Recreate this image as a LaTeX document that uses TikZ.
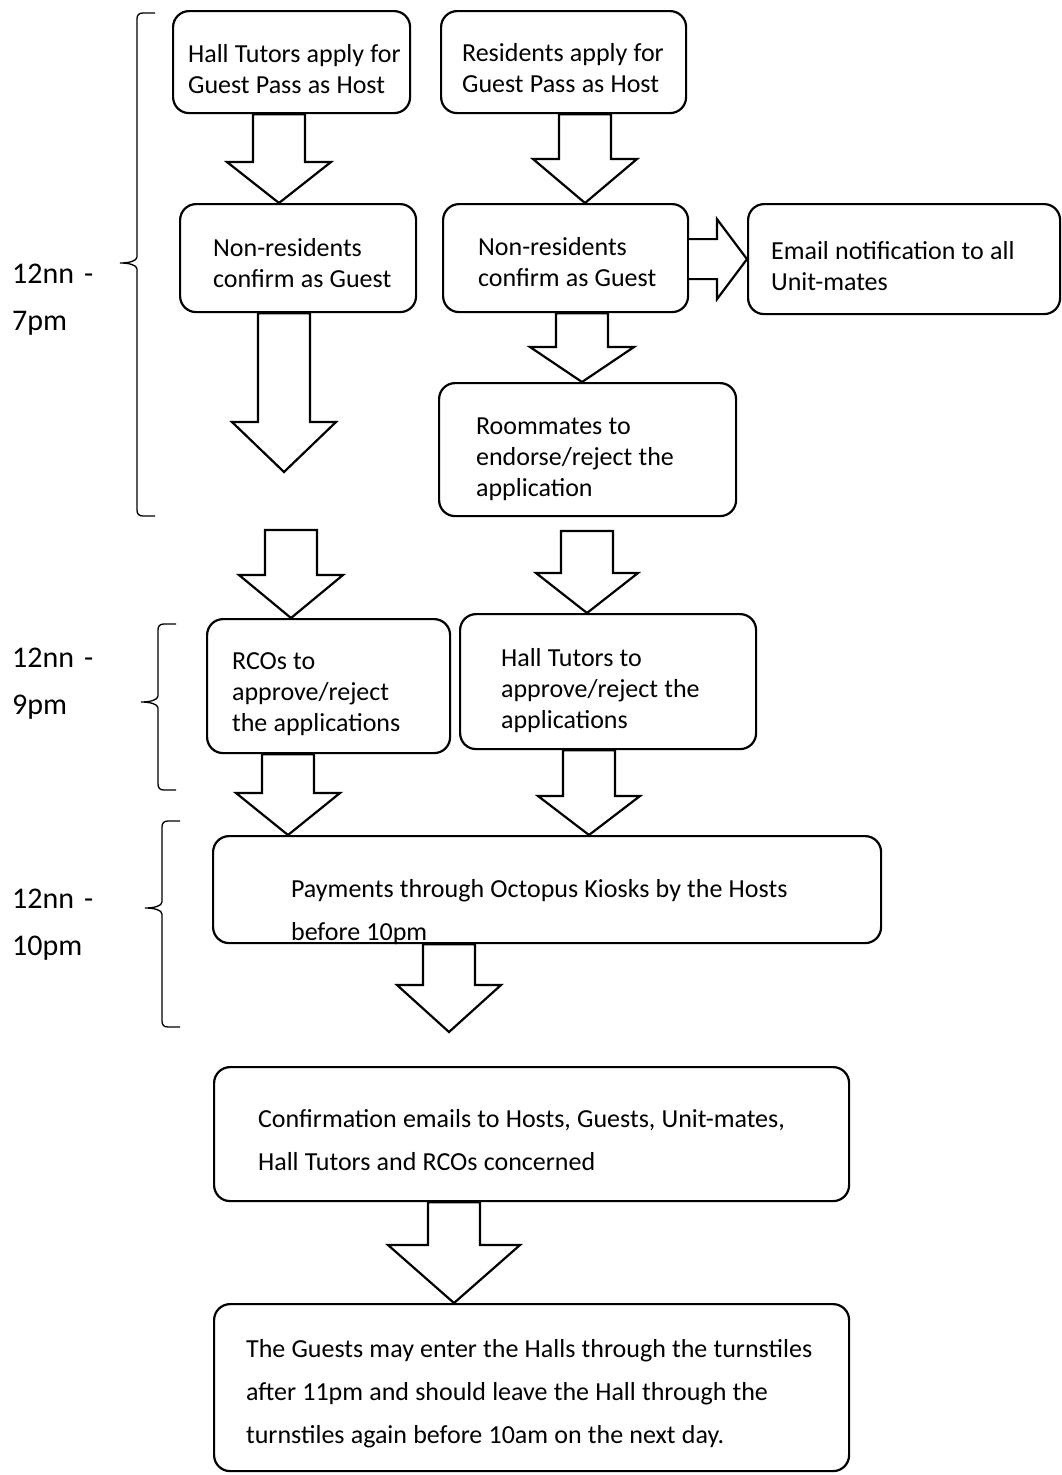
\documentclass[tikz,border=0pt]{standalone}
\usepackage{fontspec}
\setmainfont{Carlito}
\usetikzlibrary{calc}

\newcommand{\textline}[1]{\mbox{\spaceskip=6.2pt\relax#1}}
\newcommand{\flowarrow}[4]{%
  \draw[blockarrow] let \p1 = (#1), \p2 = (#2) in
    (\x2-26pt,\y1) -- (\x2-26pt,\y2+#3pt) -- (\x2-#4pt,\y2+#3pt) -- (\x2,\y2)
    -- (\x2+#4pt,\y2+#3pt) -- (\x2+26pt,\y2+#3pt) -- (\x2+26pt,\y1) -- cycle;}
\newcommand{\timebrace}[4]{%
  \draw[bracket] (#1+18,#2) -- (#1+6,#2) .. controls (#1+2,#2) and (#1,#2+2) .. (#1,#2+6)
    -- (#1,#3-6) .. controls (#1,#3-2) and (#1-8,#3) .. (#1-17,#3)
    .. controls (#1-8,#3) and (#1,#3+2) .. (#1,#3+6)
    -- (#1,#4-6) .. controls (#1,#4-2) and (#1+2,#4) .. (#1+6,#4) -- (#1+18,#4);}

\begin{document}
\begin{tikzpicture}[x=1pt, y=-1pt,
    stage/.style={draw, line width=2.2pt, rounded corners=16pt, anchor=north west,
      inner sep=0pt, font=\fontsize{26}{31}\selectfont},
    widespaced/.style={font=\fontsize{26}{43}\selectfont},
    period/.style={anchor=base west, inner sep=0pt, text width=110pt,
      font=\fontsize{30}{47.5}\selectfont},
    blockarrow/.style={draw, fill=white, line width=2.2pt, line join=miter},
    bracket/.style={draw, line width=1.3pt}
  ]
  \useasboundingbox (0,0) rectangle (1061,1475);

  \node[stage, minimum width=237pt, text width=207pt, text height=51pt, text depth=51pt]
    (htapply) at (172,10) {\textline{Hall Tutors apply for}\\\textline{Guest Pass as Host}};
  \node[stage, minimum width=245pt, text width=203pt, text height=50pt, text depth=52pt]
    (resapply) at (440,10) {\textline{Residents apply for}\\\textline{Guest Pass as Host}};
  \node[stage, minimum width=236pt, text width=170pt, text height=52pt, text depth=56pt]
    (htguest) at (179,203) {\textline{Non-residents}\\\textline{confirm as Guest}};
  \node[stage, minimum width=245pt, text width=175pt, text height=51pt, text depth=57pt]
    (resguest) at (442,203) {\textline{Non-residents}\\\textline{confirm as Guest}};
  \node[stage, minimum width=312pt, text width=266pt, text height=55pt, text depth=55pt]
    (email) at (747,203) {\textline{Email notification to all}\\\textline{Unit-mates}};
  \node[stage, minimum width=297pt, text width=223pt, text height=51pt, text depth=82pt]
    (roommates) at (438,382) {\textline{Roommates to}\\\textline{endorse/reject the}\\\textline{application}};
  \node[stage, minimum width=243pt, text width=193pt, text height=50pt, text depth=84pt]
    (rco) at (206,618) {\textline{RCOs to}\\\textline{approve/reject}\\\textline{the applications}};
  \node[stage, minimum width=296pt, text width=214pt, text height=52pt, text depth=83pt]
    (htapprove) at (459,613) {\textline{Hall Tutors to}\\\textline{approve/reject the}\\\textline{applications}};
  \node[stage, widespaced, minimum width=668pt, text width=512pt, text height=61pt, text depth=46pt]
    (payment) at (212,835) {\textline{Payments through Octopus Kiosks by the Hosts}\\\textline{before 10pm}};
  \node[stage, widespaced, minimum width=635pt, text width=547pt, text height=60pt, text depth=74pt]
    (confirm) at (213,1066) {\textline{Confirmation emails to Hosts, Guests, Unit-mates,}\\\textline{Hall Tutors and RCOs concerned}};
  \node[stage, widespaced, minimum width=635pt, text width=571pt, text height=53pt, text depth=114pt]
    (enter) at (213,1303) {\textline{The Guests may enter the Halls through the turnstiles}\\\textline{after 11pm and should leave the Hall through the}\\\textline{turnstiles again before 10am on the next day.}};

  \node[period] (slot1) at (12,283) {12nn -\\7pm};
  \node[period] (slot2) at (12,667) {12nn -\\9pm};
  \node[period] (slot3) at (12,908) {12nn -\\10pm};

  \coordinate (hold) at (284,472);
  \coordinate (rcoin) at (291,530);
  \coordinate (htin) at (587,531);
  \coordinate (payout) at (449,1032);

  \flowarrow{htapply.south}{htguest.north -| 279,0}{41}{52}
  \flowarrow{resapply.south}{resguest.north -| 585,0}{44}{52}
  \flowarrow{htguest.south}{hold}{50}{52}
  \flowarrow{resguest.south}{roommates.north -| 582,0}{35}{52}
  \flowarrow{rcoin}{rco.north -| 291,0}{43}{52}
  \flowarrow{htin}{htapprove.north -| 587,0}{40}{51}
  \flowarrow{rco.south}{payment.north -| 288,0}{42}{52}
  \flowarrow{htapprove.south}{payment.north -| 589,0}{39}{51}
  \flowarrow{payment.south}{payout}{47}{52}
  \flowarrow{confirm.south}{enter.north -| 454,0}{58}{66}
  \draw[blockarrow] let \p1 = (resguest.east), \p2 = (email.west) in
    (\x1,\y2+20pt) -- (\x2-30pt,\y2+20pt) -- (\x2-30pt,\y2+40pt) -- (\x2,\y2)
    -- (\x2-30pt,\y2-40pt) -- (\x2-30pt,\y2-20pt) -- (\x1,\y2-20pt);

  \timebrace{137}{13}{263}{516}
  \timebrace{158}{624}{702}{790}
  \timebrace{162}{821}{908}{1027}
\end{tikzpicture}
\end{document}
